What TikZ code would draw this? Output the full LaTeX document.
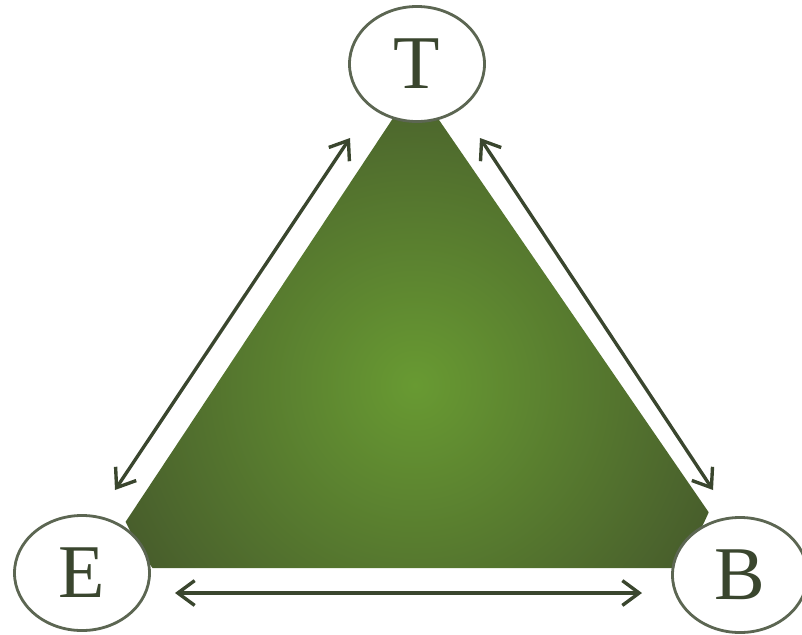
\documentclass[tikz,border=0pt]{standalone}
\usepackage{fontspec}
\setmainfont{Liberation Serif}
\usetikzlibrary{calc, positioning}
\usetikzlibrary{arrows.meta}
\usetikzlibrary{shapes.geometric}

\definecolor{leafdark}{RGB}{72,94,44}
\definecolor{leaflight}{RGB}{104,154,50}
\definecolor{inkgreen}{RGB}{58,70,46}
\definecolor{rimgray}{RGB}{92,102,82}

\tikzset{
  vertex/.style={ellipse, draw=rimgray, line width=2pt, fill=white,
    minimum width=3.375cm, minimum height=2.875cm, inner sep=0pt,
    text=inkgreen, font=\fontsize{54}{60}\selectfont},
  link/.style={{Straight Barb[length=0.42cm, width=0.62cm, line width=2.4pt]}-{Straight Barb[length=0.42cm, width=0.62cm, line width=2.4pt]},
    line width=2.4pt, draw=inkgreen}
}

\begin{document}
\begin{tikzpicture}[x=0.025cm, y=-0.025cm]
\useasboundingbox (0,0) rectangle (802,634);
    \coordinate (top) at (415,85);
    \coordinate (left) at (95,568);
    \coordinate (right) at (747,568);
% shaded triangle
\begin{scope}
  \clip (top) -- (left) -- (right) -- cycle;
  \shade[inner color=leaflight, outer color=leafdark] (415,385) circle (320);
\end{scope}
% corners
\node[vertex] (T) at (417,64) {T};
\node[vertex] (E) at (82,573) {E};
\node[vertex] (B) at (740,575) {B};
% arrows along the sides
    \coordinate (te1) at (350,138);
    \coordinate (te2) at (115,490);
    \coordinate (tb1) at (480,138);
    \coordinate (tb2) at (713,490);
    \coordinate (eb1) at (175,593);
    \coordinate (eb2) at (642,593);
\draw[link] (te2) -- (te1);
\draw[link] (tb1) -- (tb2);
\draw[link] (eb1) -- (eb2);
\end{tikzpicture}
\end{document}
